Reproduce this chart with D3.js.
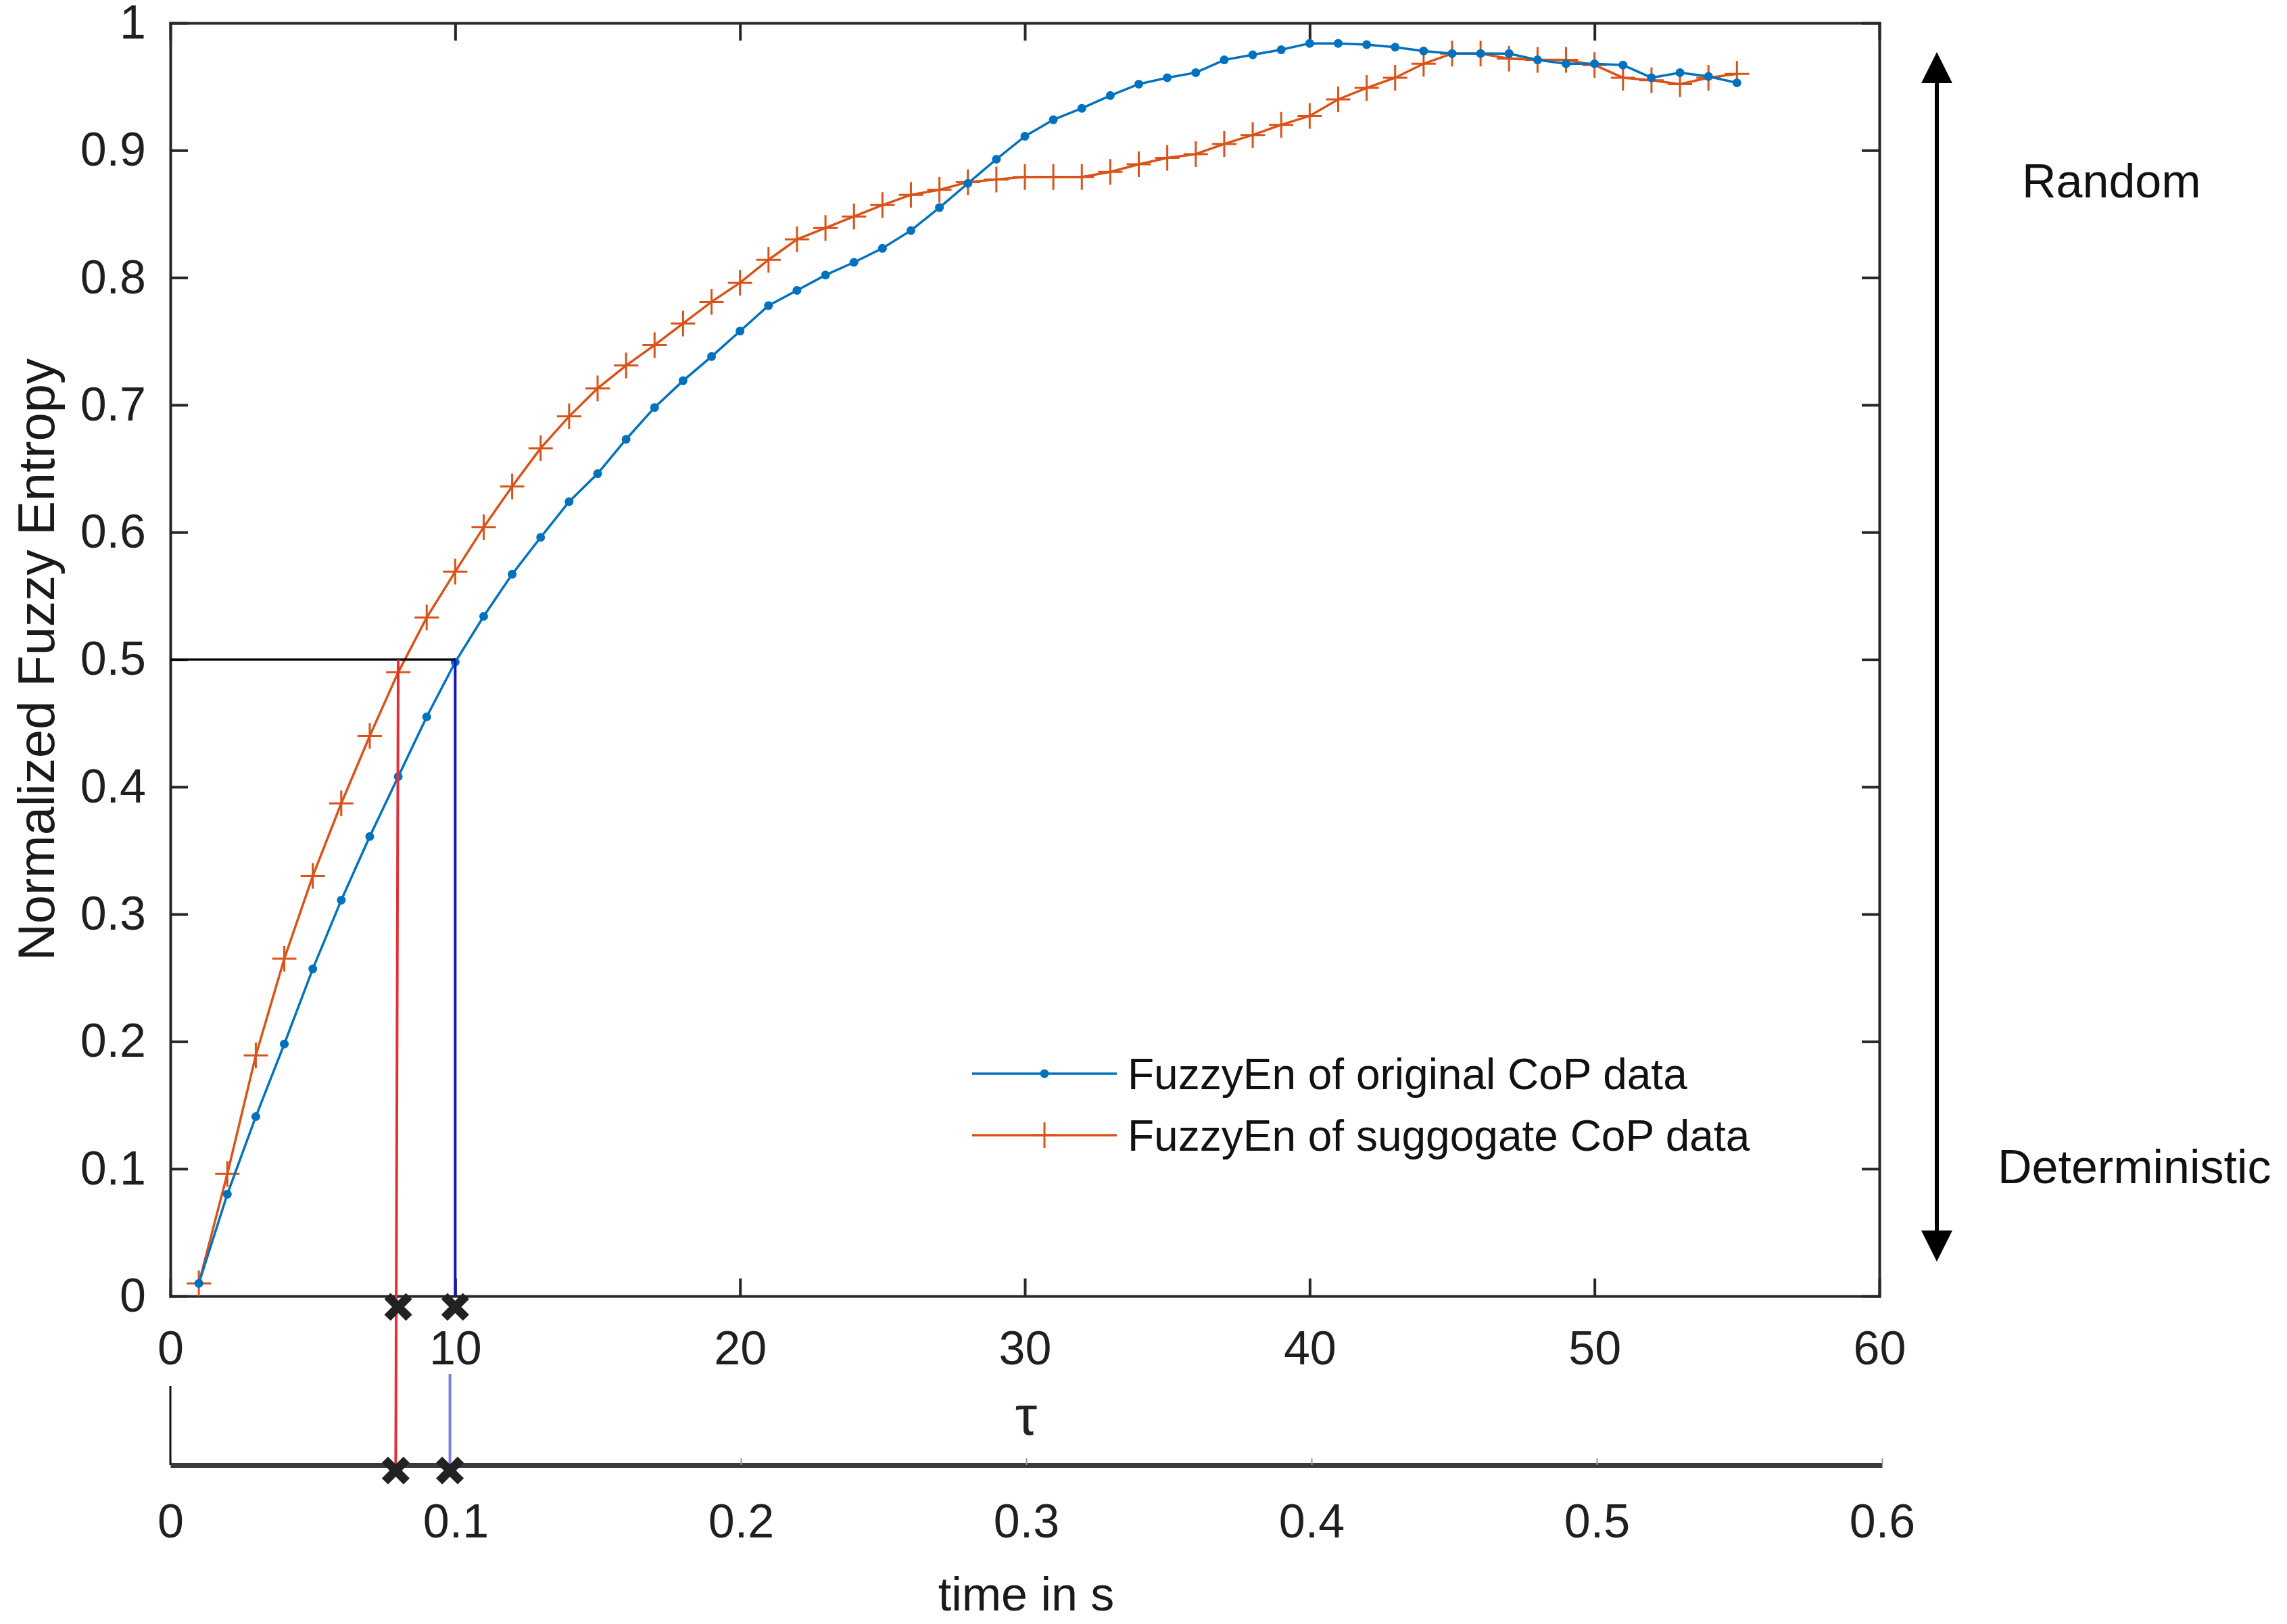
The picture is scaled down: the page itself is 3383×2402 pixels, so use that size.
<!DOCTYPE html>
<html>
<head>
<meta charset="utf-8">
<title>Normalized Fuzzy Entropy</title>
<script src="https://cdn.jsdelivr.net/npm/d3@7"></script>
<style>
body { margin: 0; background: #fff; }
svg { display: block; font-family: 'Liberation Sans', Arial, sans-serif; }
.axis path, .axis line { stroke: #262626; stroke-width: 4; }
.axis text { font-size: 70px; fill: #1f1f1f; font-family: 'Liberation Sans', Arial, sans-serif; }
.taxis path { stroke: #3a3a3a; stroke-width: 7; }
.taxis line { stroke: #999; stroke-width: 2; }
.label { font-size: 72px; fill: #1a1a1a; }
.legend text { font-size: 64px; fill: #111; }
</style>
</head>
<body>
<div id="plot"></div>

<script>
// time delay tau (samples)
var tau = [1, 2, 3, 4, 5, 6, 7, 8, 9, 10, 11, 12, 13, 14, 15, 16, 17, 18, 19, 20,
  21, 22, 23, 24, 25, 26, 27, 28, 29, 30, 31, 32, 33, 34, 35, 36, 37, 38, 39, 40,
  41, 42, 43, 44, 45, 46, 47, 48, 49, 50, 51, 52, 53, 54, 55];

// FuzzyEn of original CoP data
var original = [0.010, 0.080, 0.141, 0.198, 0.257, 0.311, 0.361, 0.408, 0.455, 0.498,
  0.534, 0.567, 0.596, 0.624, 0.646, 0.673, 0.698, 0.719, 0.738, 0.758,
  0.778, 0.790, 0.802, 0.812, 0.823, 0.837, 0.855, 0.874, 0.893, 0.911,
  0.924, 0.933, 0.943, 0.952, 0.957, 0.961, 0.971, 0.975, 0.979, 0.984,
  0.984, 0.983, 0.981, 0.978, 0.976, 0.976, 0.976, 0.971, 0.968, 0.968,
  0.967, 0.957, 0.961, 0.958, 0.953];

// FuzzyEn of surrogate CoP data
var surrogate = [0.010, 0.096, 0.189, 0.265, 0.330, 0.387, 0.440, 0.490, 0.533, 0.569,
  0.604, 0.636, 0.666, 0.691, 0.713, 0.731, 0.747, 0.764, 0.781, 0.796,
  0.814, 0.830, 0.839, 0.848, 0.857, 0.865, 0.869, 0.875, 0.877, 0.879,
  0.879, 0.879, 0.883, 0.889, 0.894, 0.897, 0.905, 0.912, 0.920, 0.927,
  0.940, 0.949, 0.957, 0.968, 0.976, 0.976, 0.972, 0.971, 0.971, 0.967,
  0.957, 0.955, 0.952, 0.957, 0.960];

var yTicks = [0, 0.1, 0.2, 0.3, 0.4, 0.5, 0.6, 0.7, 0.8, 0.9, 1];
var xTicks = [0, 10, 20, 30, 40, 50, 60];
var tTicks = [0, 0.1, 0.2, 0.3, 0.4, 0.5, 0.6];

// threshold and where each curve reaches it
var threshold = 0.5;
var crossTau = [8, 10];          // surrogate, original
var crossTime = [0.079, 0.098];  // same points on the time axis

var seriesNames = ["FuzzyEn of original CoP data", "FuzzyEn of suggogate CoP data"];

var width = 3383, height = 2402;
var blue = "#0072bd", orange = "#d95319";

var svg = d3.select("#plot").append("svg")
  .attr("width", width).attr("height", height);

var xScale = d3.scaleLinear().domain([0, 60]).range([252, 2780]);
var yScale = d3.scaleLinear().domain([0, 1]).range([1917, 34]);
var tScale = d3.scaleLinear().domain([0, 0.6]).range([252, 2784]);
var tAxisY = 2167;

var fmt = d3.format(".1~f");

// box axes with inward ticks
svg.append("g").attr("class", "axis")
  .attr("transform", "translate(0," + yScale(0) + ")")
  .call(d3.axisBottom(xScale).tickValues(xTicks).tickFormat(fmt)
    .tickSizeInner(-26).tickSizeOuter(0).tickPadding(51));

svg.append("g").attr("class", "axis")
  .attr("transform", "translate(0," + yScale(1) + ")")
  .call(d3.axisTop(xScale).tickValues(xTicks).tickFormat("")
    .tickSizeInner(-26).tickSizeOuter(0));

svg.append("g").attr("class", "axis")
  .attr("transform", "translate(" + xScale(0) + ",0)")
  .call(d3.axisLeft(yScale).tickValues(yTicks).tickFormat(fmt)
    .tickSizeInner(-26).tickSizeOuter(0).tickPadding(36));

svg.append("g").attr("class", "axis")
  .attr("transform", "translate(" + xScale(60) + ",0)")
  .call(d3.axisRight(yScale).tickValues(yTicks).tickFormat("")
    .tickSizeInner(-26).tickSizeOuter(0));

svg.selectAll(".axis .domain").attr("stroke-linecap", "square");

// second axis: time in s
svg.append("g").attr("class", "axis taxis")
  .attr("transform", "translate(0," + tAxisY + ")")
  .call(d3.axisBottom(tScale).tickValues(tTicks).tickFormat(fmt)
    .tickSizeInner(-10).tickSizeOuter(0).tickPadding(57));

svg.append("line")
  .attr("x1", tScale(0)).attr("x2", tScale(0))
  .attr("y1", 2050).attr("y2", tAxisY)
  .style("stroke", "#111").style("stroke-width", 3);

// series
var pairs = function (vals) {
  return tau.map(function (t, i) { return { x: t, y: vals[i] }; });
};
var line = d3.line()
  .x(function (d) { return xScale(d.x); })
  .y(function (d) { return yScale(d.y); });

var plusPath = "M-18,0H18M0,-19V19";

svg.append("path").datum(pairs(surrogate))
  .attr("d", line).attr("fill", "none")
  .style("stroke", orange).style("stroke-width", 3.5);
svg.append("g").selectAll("path")
  .data(pairs(surrogate)).enter().append("path")
  .attr("transform", function (d) { return "translate(" + xScale(d.x) + "," + yScale(d.y) + ")"; })
  .attr("d", plusPath)
  .style("stroke", orange).style("stroke-width", 3);

svg.append("path").datum(pairs(original))
  .attr("d", line).attr("fill", "none")
  .style("stroke", blue).style("stroke-width", 3.5);
svg.append("g").selectAll("circle")
  .data(pairs(original)).enter().append("circle")
  .attr("cx", function (d) { return xScale(d.x); })
  .attr("cy", function (d) { return yScale(d.y); })
  .attr("r", 6.5)
  .style("fill", blue);

// threshold guide lines
svg.append("line")
  .attr("x1", xScale(0)).attr("x2", xScale(crossTau[1]))
  .attr("y1", yScale(threshold)).attr("y2", yScale(threshold))
  .style("stroke", "#000").style("stroke-width", 3.5);

svg.append("line")
  .attr("x1", xScale(crossTau[0])).attr("x2", tScale(crossTime[0]))
  .attr("y1", yScale(threshold)).attr("y2", tAxisY)
  .style("stroke", "#e0303a").style("stroke-width", 4);

svg.append("line")
  .attr("x1", xScale(crossTau[1])).attr("x2", xScale(crossTau[1]))
  .attr("y1", yScale(threshold)).attr("y2", yScale(0))
  .style("stroke", "#1515c0").style("stroke-width", 4);

svg.append("line")
  .attr("x1", tScale(crossTime[1])).attr("x2", tScale(crossTime[1]))
  .attr("y1", 2032).attr("y2", tAxisY)
  .style("stroke", "#7c7ce6").style("stroke-width", 4);

// bold crosses on both axes
var xPath = "M-16,-16L16,16M-16,16L16,-16";
svg.append("g").selectAll("path")
  .data(crossTau).enter().append("path")
  .attr("transform", function (d) { return "translate(" + xScale(d) + "," + (yScale(0) + 16) + ")"; })
  .attr("d", xPath)
  .style("stroke", "#222").style("stroke-width", 13);
svg.append("g").selectAll("path")
  .data(crossTime).enter().append("path")
  .attr("transform", function (d) { return "translate(" + tScale(d) + "," + (tAxisY + 8) + ")"; })
  .attr("d", xPath)
  .style("stroke", "#222").style("stroke-width", 13);

// axis labels
svg.append("text").attr("class", "label")
  .attr("transform", "translate(80," + yScale(0.5) + ") rotate(-90)")
  .attr("text-anchor", "middle")
  .style("font-size", "76px")
  .text("Normalized Fuzzy Entropy");

svg.append("text").attr("class", "label")
  .attr("x", tScale(0.3)).attr("y", 2382)
  .attr("text-anchor", "middle")
  .style("font-size", "70px")
  .text("time in s");

svg.append("text")
  .attr("x", tScale(0.3)).attr("y", 2122)
  .attr("text-anchor", "middle")
  .style("font-size", "82px").style("fill", "#222")
  .text("τ");

// legend
var legend = svg.append("g").attr("class", "legend");
var legendY = [1588, 1679];
var legendColors = [blue, orange];
seriesNames.forEach(function (name, i) {
  var g = legend.append("g").attr("transform", "translate(0," + legendY[i] + ")");
  g.append("line").attr("x1", 1438).attr("x2", 1652)
    .style("stroke", legendColors[i]).style("stroke-width", 3.5);
  if (i === 0) {
    g.append("circle").attr("cx", 1545).attr("r", 6.5).style("fill", blue);
  } else {
    g.append("path").attr("transform", "translate(1545,0)")
      .attr("d", plusPath).style("stroke", orange).style("stroke-width", 3);
  }
  g.append("text").attr("x", 1668).attr("y", 23).text(name);
});

// Random / Deterministic double arrow
var arrowX = 2865, arrowTop = 77, arrowBottom = 1866;
svg.append("line")
  .attr("x1", arrowX).attr("x2", arrowX)
  .attr("y1", arrowTop + 40).attr("y2", arrowBottom - 40)
  .style("stroke", "#000").style("stroke-width", 6);
svg.append("path")
  .attr("d", "M" + arrowX + "," + arrowTop + "l23,46h-46z")
  .style("fill", "#000");
svg.append("path")
  .attr("d", "M" + arrowX + "," + arrowBottom + "l23,-46h-46z")
  .style("fill", "#000");

svg.append("text").attr("x", 2991).attr("y", 292)
  .style("font-size", "70px").style("fill", "#111")
  .text("Random");
svg.append("text").attr("x", 2955).attr("y", 1750)
  .style("font-size", "70px").style("fill", "#111")
  .text("Deterministic");
</script>
</body>
</html>
